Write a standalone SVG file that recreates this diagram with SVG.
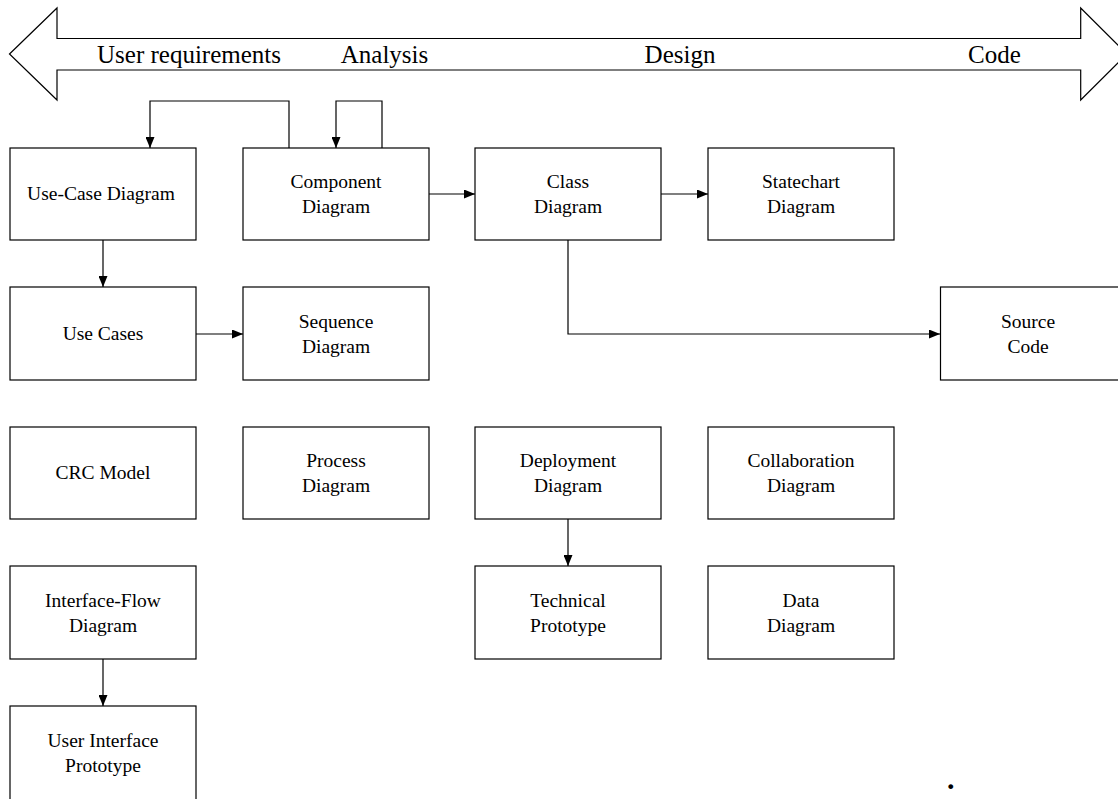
<svg xmlns="http://www.w3.org/2000/svg" width="1118" height="799" viewBox="0 0 1118 799">
<style>
.box{fill:#fff;stroke:#000;stroke-width:1.2}
.t{font-family:"Liberation Serif","Times New Roman",serif;font-size:19.5px;fill:#000;text-anchor:middle}
.h{font-family:"Liberation Serif","Times New Roman",serif;font-size:25px;fill:#000}
.c{fill:none;stroke:#000;stroke-width:1.2}
</style>
<defs>
<marker id="ah" viewBox="0 0 11 9" refX="11" refY="4.5" markerWidth="11" markerHeight="9" markerUnits="userSpaceOnUse" orient="auto">
<path d="M0,0 L11,4.5 L0,9 Z" fill="#000"/>
</marker>
</defs>
<rect width="1118" height="799" fill="#fff"/>
<g id="phase-arrow">
<polygon points="9.5,54 57,8 57,38.5 1080.7,38.5 1080.7,8 1127,54 1080.7,100 1080.7,70 57,70 57,100" fill="#fff" stroke="#000" stroke-width="1.2"/>
<text class="h" x="97" y="63">User requirements</text>
<text class="h" x="384.5" y="63" text-anchor="middle">Analysis</text>
<text class="h" x="680" y="63" text-anchor="middle">Design</text>
<text class="h" x="994.5" y="63" text-anchor="middle">Code</text>
</g>
<g id="connectors">
<path class="c" d="M289,148 V101 H150 V148" marker-end="url(#ah)"/>
<path class="c" d="M382,148 V101 H336 V148" marker-end="url(#ah)"/>
<path class="c" d="M429,194 H475" marker-end="url(#ah)"/>
<path class="c" d="M661,194 H708" marker-end="url(#ah)"/>
<path class="c" d="M103,240 V287" marker-end="url(#ah)"/>
<path class="c" d="M196,334 H243" marker-end="url(#ah)"/>
<path class="c" d="M568,240 V334 H940" marker-end="url(#ah)"/>
<path class="c" d="M568,519 V566" marker-end="url(#ah)"/>
<path class="c" d="M103,659 V706" marker-end="url(#ah)"/>
</g>
<g id="use-case-diagram"><rect class="box" x="10" y="148" width="186" height="92"/><text class="t" x="101" y="200">Use-Case Diagram</text></g>
<g id="component-diagram"><rect class="box" x="243" y="148" width="186" height="92"/><text class="t" x="336" y="188">Component</text><text class="t" x="336" y="212.5">Diagram</text></g>
<g id="class-diagram"><rect class="box" x="475" y="148" width="186" height="92"/><text class="t" x="568" y="188">Class</text><text class="t" x="568" y="212.5">Diagram</text></g>
<g id="statechart-diagram"><rect class="box" x="708" y="148" width="186" height="92"/><text class="t" x="801" y="188">Statechart</text><text class="t" x="801" y="212.5">Diagram</text></g>
<g id="use-cases"><rect class="box" x="10" y="287" width="186" height="93"/><text class="t" x="103" y="340">Use Cases</text></g>
<g id="sequence-diagram"><rect class="box" x="243" y="287" width="186" height="93"/><text class="t" x="336" y="328">Sequence</text><text class="t" x="336" y="352.5">Diagram</text></g>
<g id="source-code"><rect class="box" x="940.5" y="287" width="186" height="93"/><text class="t" x="1028" y="328">Source</text><text class="t" x="1028" y="352.5">Code</text></g>
<g id="crc-model"><rect class="box" x="10" y="427" width="186" height="92"/><text class="t" x="103" y="479">CRC Model</text></g>
<g id="process-diagram"><rect class="box" x="243" y="427" width="186" height="92"/><text class="t" x="336" y="467">Process</text><text class="t" x="336" y="491.5">Diagram</text></g>
<g id="deployment-diagram"><rect class="box" x="475" y="427" width="186" height="92"/><text class="t" x="568" y="467">Deployment</text><text class="t" x="568" y="491.5">Diagram</text></g>
<g id="collaboration-diagram"><rect class="box" x="708" y="427" width="186" height="92"/><text class="t" x="801" y="467">Collaboration</text><text class="t" x="801" y="491.5">Diagram</text></g>
<g id="interface-flow-diagram"><rect class="box" x="10" y="566" width="186" height="93"/><text class="t" x="103" y="607">Interface-Flow</text><text class="t" x="103" y="631.5">Diagram</text></g>
<g id="technical-prototype"><rect class="box" x="475" y="566" width="186" height="93"/><text class="t" x="568" y="607">Technical</text><text class="t" x="568" y="631.5">Prototype</text></g>
<g id="data-diagram"><rect class="box" x="708" y="566" width="186" height="93"/><text class="t" x="801" y="607">Data</text><text class="t" x="801" y="631.5">Diagram</text></g>
<g id="user-interface-prototype"><rect class="box" x="10" y="706" width="186" height="100"/><text class="t" x="103" y="747">User Interface</text><text class="t" x="103" y="771.5">Prototype</text></g>
<text x="947" y="788.5" font-family="Liberation Serif, serif" font-size="30" font-weight="bold" fill="#000">.</text>
</svg>
